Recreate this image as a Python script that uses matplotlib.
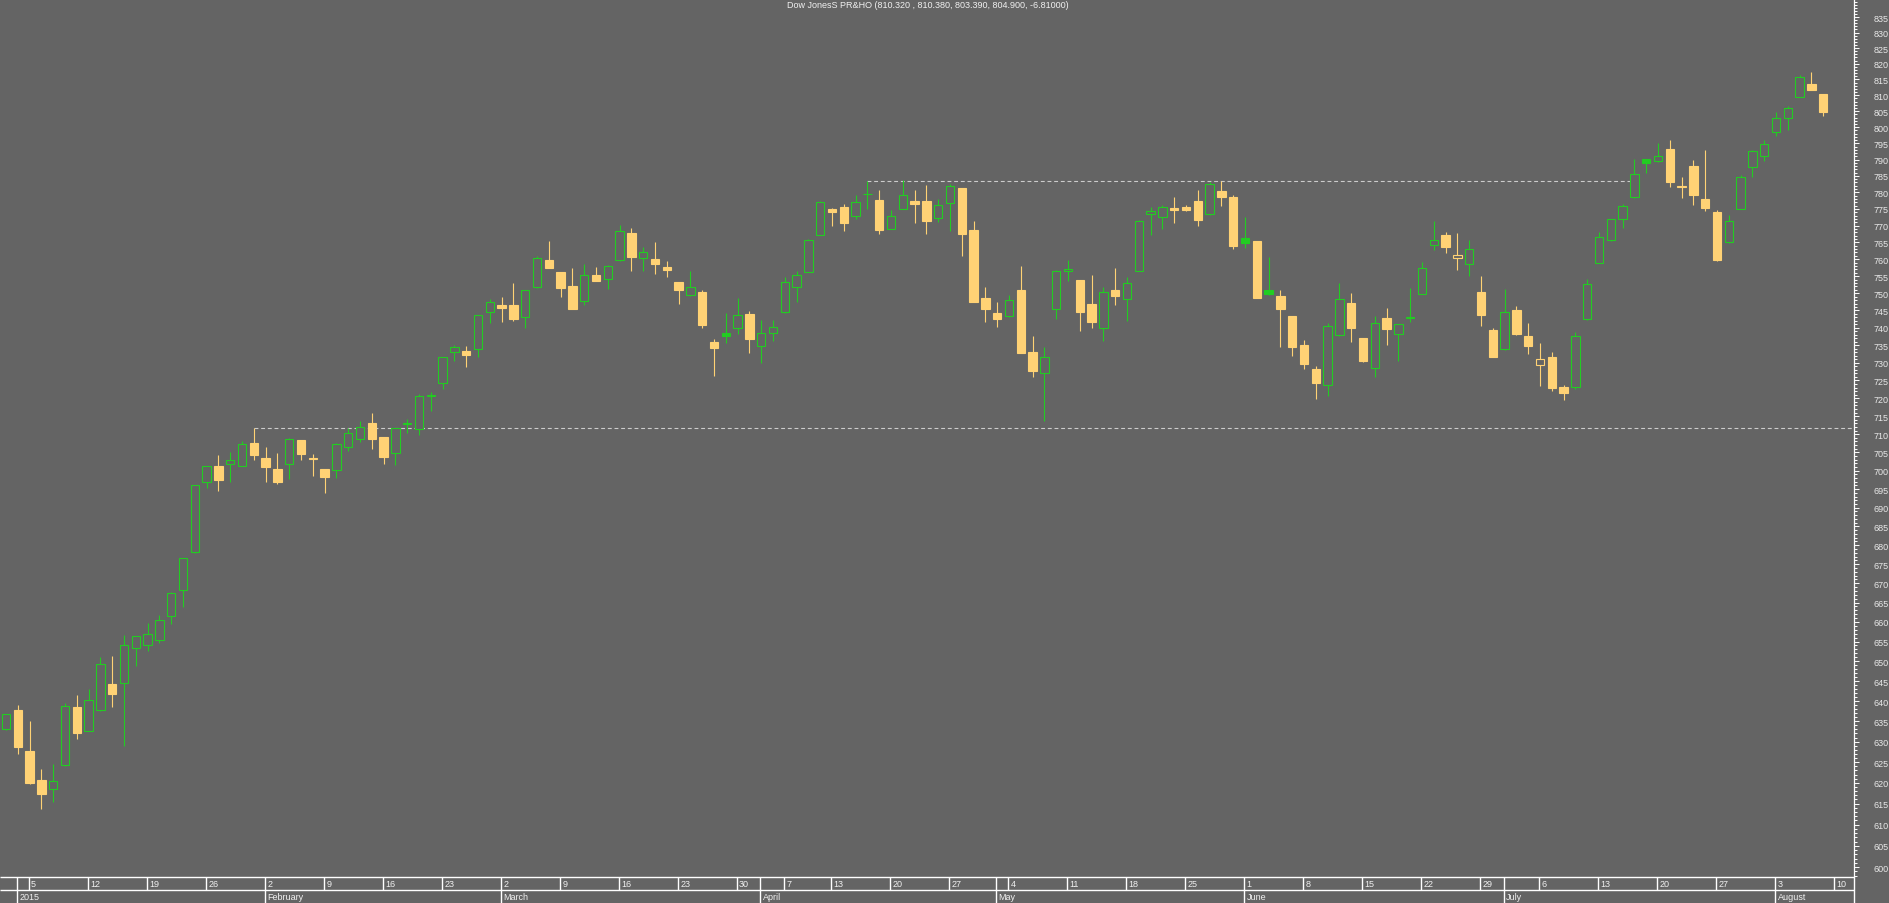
import matplotlib.pyplot as plt
import numpy as np
import pandas as pd
from matplotlib.ticker import NullFormatter

plt.rcParams['font.family'] = ['Liberation Sans', 'DejaVu Sans']

title = 'Dow JonesS PR&HO (810.320 , 810.380, 803.390, 804.900, -6.81000)'

# daily candles, 31 Dec 2014 .. 7 Aug 2015
opens = [633.2, 637.8, 627.7, 620.7, 618.6, 624.2, 638.5, 632.7, 637.7, 644.4,
         644.6, 653.3, 654.2, 655.5, 661.6, 668.2, 678.1, 696.8, 701.2, 701.7,
         701.4, 707.5, 703.4, 700.4, 701.7, 708.3, 703.4, 700.4, 700.3, 706.6,
         708.8, 713.0, 709.2, 704.7, 712.8, 711.3, 720.7, 724.3, 733.1, 733.3,
         733.8, 744.4, 746.5, 746.6, 743.0, 751.7, 759.7, 756.1, 752.0, 747.6,
         755.3, 754.3, 759.7, 767.7, 760.2, 760.0, 757.6, 753.2, 749.6, 750.3,
         735.9, 738.5, 739.9, 743.9, 734.7, 738.5, 744.4, 751.9, 756.3, 767.3,
         774.9, 775.5, 773.0, 779.5, 777.6, 769.1, 775.1, 777.4, 777.3, 772.2,
         776.9, 781.3, 768.6, 748.6, 744.2, 743.3, 750.9, 733.0, 727.0, 745.3,
         756.5, 753.8, 746.8, 739.8, 750.9, 748.2, 756.6, 773.4, 772.7, 775.2,
         775.7, 777.3, 773.5, 780.4, 778.5, 766.2, 765.3, 750.9, 749.1, 743.4,
         735.0, 728.2, 723.8, 738.0, 747.1, 737.0, 728.6, 742.8, 738.2, 742.9,
         749.9, 764.3, 767.1, 760.4, 758.7, 750.3, 739.3, 733.8, 745.1, 737.6,
         729.3, 731.6, 723.2, 723.2, 742.4, 759.0, 765.8, 772.1, 778.5, 790.1,
         789.7, 793.2, 781.8, 788.0, 777.9, 774.0, 765.2, 775.1, 787.6, 791.1,
         798.4, 803.0, 809.6, 813.6, 810.32]
highs = [636.9, 639.0, 635.0, 623.3, 624.5, 639.5, 641.5, 643.0, 651.0, 651.3,
         656.6, 656.5, 659.7, 661.7, 667.8, 676.7, 696.2, 701.4, 704.2, 705.0,
         708.0, 711.6, 706.4, 704.9, 709.0, 708.5, 704.5, 700.5, 707.6, 711.6,
         713.6, 715.8, 709.3, 711.7, 714.3, 721.1, 721.7, 731.6, 735.0, 734.7,
         743.8, 748.3, 748.9, 752.9, 751.0, 760.8, 765.3, 756.2, 757.3, 758.5,
         757.6, 758.2, 770.1, 769.4, 763.7, 765.0, 759.4, 753.3, 756.4, 750.9,
         736.7, 744.2, 748.6, 744.8, 742.1, 742.2, 754.7, 756.6, 765.9, 777.5,
         775.4, 776.4, 779.3, 783.3, 780.7, 774.6, 783.9, 780.7, 782.3, 777.9,
         782.5, 781.4, 771.3, 751.7, 747.4, 749.4, 757.9, 737.6, 734.5, 756.8,
         759.7, 754.0, 755.3, 751.9, 757.3, 754.7, 771.6, 775.7, 776.1, 778.5,
         776.3, 780.7, 783.0, 783.5, 779.1, 772.7, 765.4, 760.6, 750.9, 743.5,
         736.4, 729.1, 741.5, 753.1, 750.0, 737.1, 743.4, 745.7, 741.1, 751.5,
         759.3, 771.3, 768.0, 767.7, 765.8, 755.0, 739.9, 751.2, 746.3, 741.3,
         735.6, 733.0, 723.8, 738.7, 754.1, 768.0, 772.1, 776.6, 790.1, 790.3,
         795.1, 796.0, 784.6, 789.8, 792.9, 774.8, 773.3, 785.4, 792.9, 796.0,
         804.7, 806.6, 816.4, 817.3, 810.38]
lows = [632.9, 627.0, 619.7, 613.8, 615.4, 624.0, 630.6, 632.5, 637.5, 638.6,
        629.0, 648.8, 652.7, 654.7, 659.6, 663.9, 678.0, 695.2, 694.5, 697.0,
        701.3, 702.9, 697.0, 696.5, 697.8, 702.9, 698.6, 694.0, 698.0, 705.4,
        707.9, 706.0, 701.9, 701.6, 710.4, 709.8, 716.4, 722.6, 730.5, 728.8,
        731.7, 741.4, 741.7, 742.0, 739.8, 751.5, 757.3, 749.0, 745.4, 746.7,
        753.5, 751.2, 759.5, 756.6, 756.6, 755.7, 754.8, 746.9, 749.2, 739.9,
        726.3, 735.6, 738.3, 732.8, 729.8, 736.2, 744.3, 747.5, 756.2, 767.2,
        769.9, 768.4, 772.1, 775.0, 767.5, 769.0, 775.0, 770.8, 767.5, 771.2,
        768.4, 761.0, 747.4, 741.7, 740.3, 743.2, 732.7, 726.0, 713.6, 742.6,
        753.6, 739.1, 739.9, 736.2, 746.6, 742.0, 756.5, 767.2, 769.0, 770.8,
        774.5, 769.8, 773.2, 775.9, 763.1, 763.3, 748.5, 749.5, 734.6, 732.0,
        728.2, 719.7, 720.5, 737.5, 736.0, 730.3, 726.0, 735.1, 730.5, 741.7,
        749.8, 762.8, 761.9, 756.8, 755.1, 740.6, 731.5, 733.7, 737.8, 732.6,
        723.4, 722.0, 719.5, 722.7, 742.3, 758.9, 765.4, 769.3, 778.4, 785.9,
        789.3, 781.7, 778.3, 776.2, 774.4, 759.5, 764.9, 775.0, 784.7, 789.6,
        797.3, 799.2, 809.5, 811.7, 803.39]
closes = [636.9, 628.8, 619.9, 617.3, 620.4, 638.7, 632.2, 640.4, 649.2, 641.8,
          654.0, 656.3, 656.9, 660.4, 667.6, 676.5, 696.0, 701.2, 697.5, 702.8,
          707.4, 704.3, 701.0, 697.0, 708.8, 704.5, 703.3, 698.3, 707.4, 710.2,
          712.1, 708.7, 703.7, 711.6, 713.2, 720.7, 720.8, 731.5, 734.4, 732.1,
          743.6, 747.3, 745.8, 742.6, 750.8, 760.2, 757.4, 751.6, 745.5, 755.2,
          753.6, 758.1, 768.5, 760.6, 762.0, 758.6, 756.8, 751.0, 751.9, 740.8,
          734.2, 737.5, 743.6, 736.8, 738.5, 740.1, 753.4, 755.2, 765.8, 777.2,
          774.1, 770.8, 777.2, 779.6, 768.7, 773.0, 779.3, 776.5, 771.4, 776.3,
          781.8, 767.5, 747.5, 745.5, 742.6, 747.9, 732.8, 727.7, 731.5, 756.6,
          757.2, 744.6, 741.7, 750.5, 749.2, 753.1, 771.5, 774.5, 775.7, 774.7,
          774.6, 771.7, 782.4, 778.6, 763.9, 764.8, 748.6, 749.8, 745.5, 734.6,
          729.6, 724.2, 740.4, 748.2, 739.9, 730.4, 741.5, 739.6, 741.0, 743.0,
          757.5, 765.8, 763.6, 761.3, 762.9, 743.8, 731.6, 744.5, 738.3, 734.8,
          731.0, 722.8, 721.4, 737.6, 752.8, 766.7, 772.0, 776.0, 785.6, 789.0,
          791.1, 783.2, 781.7, 779.2, 775.3, 759.8, 771.4, 784.8, 792.5, 794.7,
          803.0, 805.9, 815.9, 811.71, 804.90]

# trading days incl. the next Monday for the last axis label
holidays = ['2015-01-01', '2015-04-03', '2015-04-06']
days = pd.bdate_range('2014-12-31', '2015-08-10')
days = days[~days.isin(pd.to_datetime(holidays))]

bg = '#646464'
green = '#22cc22'
yellow = '#ffd275'
W, H = 1890., 904.
bar_h = 26.

fig = plt.figure(figsize=(W/100, H/100), dpi=100, facecolor=bg)
ax = fig.add_axes([0, bar_h/H, 1854/W, 1 - bar_h/H])
ax.set_facecolor(bg)
ax.set_yscale('log')

o = np.array(opens); h = np.array(highs); l = np.array(lows); c = np.array(closes)
n = len(o)
x = np.arange(n)
prev = np.r_[c[0] - 1, c[:-1]]
cols = np.where(c >= prev, green, yellow)
face = np.where(c > o, bg, cols)

ax.vlines(x, l, h, colors=cols, lw=0.8, zorder=2)
ax.bar(x, np.maximum(np.abs(c - o), 0.1), bottom=np.minimum(o, c), width=0.72,
       color=face, edgecolor=cols, linewidth=0.8, zorder=3)

xmin, xmax = -0.508, 156.61
ax.set_xlim(xmin, xmax)
ax.set_ylim(597.7, 840.9)

# resistance lines
ax.hlines(h[21], 21, xmax, colors='#cccccc', lw=0.8, linestyles=(0, (3.5, 2.5)), zorder=1)
ax.hlines(h[73], 73, 138, colors='#cccccc', lw=0.8, linestyles=(0, (3.5, 2.5)), zorder=1)

for s in ['top', 'left', 'bottom']:
    ax.spines[s].set_visible(False)
ax.spines['right'].set_color('white')
ax.spines['right'].set_linewidth(0.9)
ax.set_xticks([])
ax.yaxis.tick_right()
major = np.arange(600, 836, 5)
ax.set_yticks(major)
ax.set_yticklabels([str(v) for v in major])
ax.set_yticks(np.arange(598, 841), minor=True)
ax.yaxis.set_minor_formatter(NullFormatter())
ax.tick_params(axis='y', which='major', length=3.8, width=0.7, color='white',
               labelcolor='#e8e8e8', labelsize=6.5, pad=10)
ax.tick_params(axis='y', which='minor', length=1.9, width=0.7, color='white')

fig.text(928/W, 1 - 6/H, title, ha='center', va='center', color='#f0f0f0', fontsize=6.5)

# date bar
bx = fig.add_axes([0, 0, 1854/W, bar_h/H])
bx.set_xlim(xmin, xmax)
bx.set_ylim(0, 2)
bx.axis('off')
bx.hlines([2, 1], xmin, xmax, colors='white', lw=1.0, clip_on=False)
bx.vlines(xmax, 0, 2, colors='white', lw=1.0, clip_on=False)

week = days.isocalendar().week.values
for i in range(1, len(days)):
    d = days[i]
    xs = i - 0.09
    new_week = week[i] != week[i - 1]
    new_month = d.month != days[i - 1].month
    if new_week or new_month:
        bx.vlines(xs, 1, 2, colors='white', lw=1.0)
    if new_week:
        bx.text(xs + 0.22, 1.5, str(d.day), color='#f0f0f0', fontsize=6.5, va='center')
    if new_month:
        bx.vlines(xs, 0, 1, colors='white', lw=1.0)
        name = str(d.year) if d.month == 1 else d.strftime('%B')
        bx.text(xs + 0.22, 0.5, name, color='#f0f0f0', fontsize=6.5, va='center')

fig.savefig('out.png', dpi=100, facecolor=bg)
